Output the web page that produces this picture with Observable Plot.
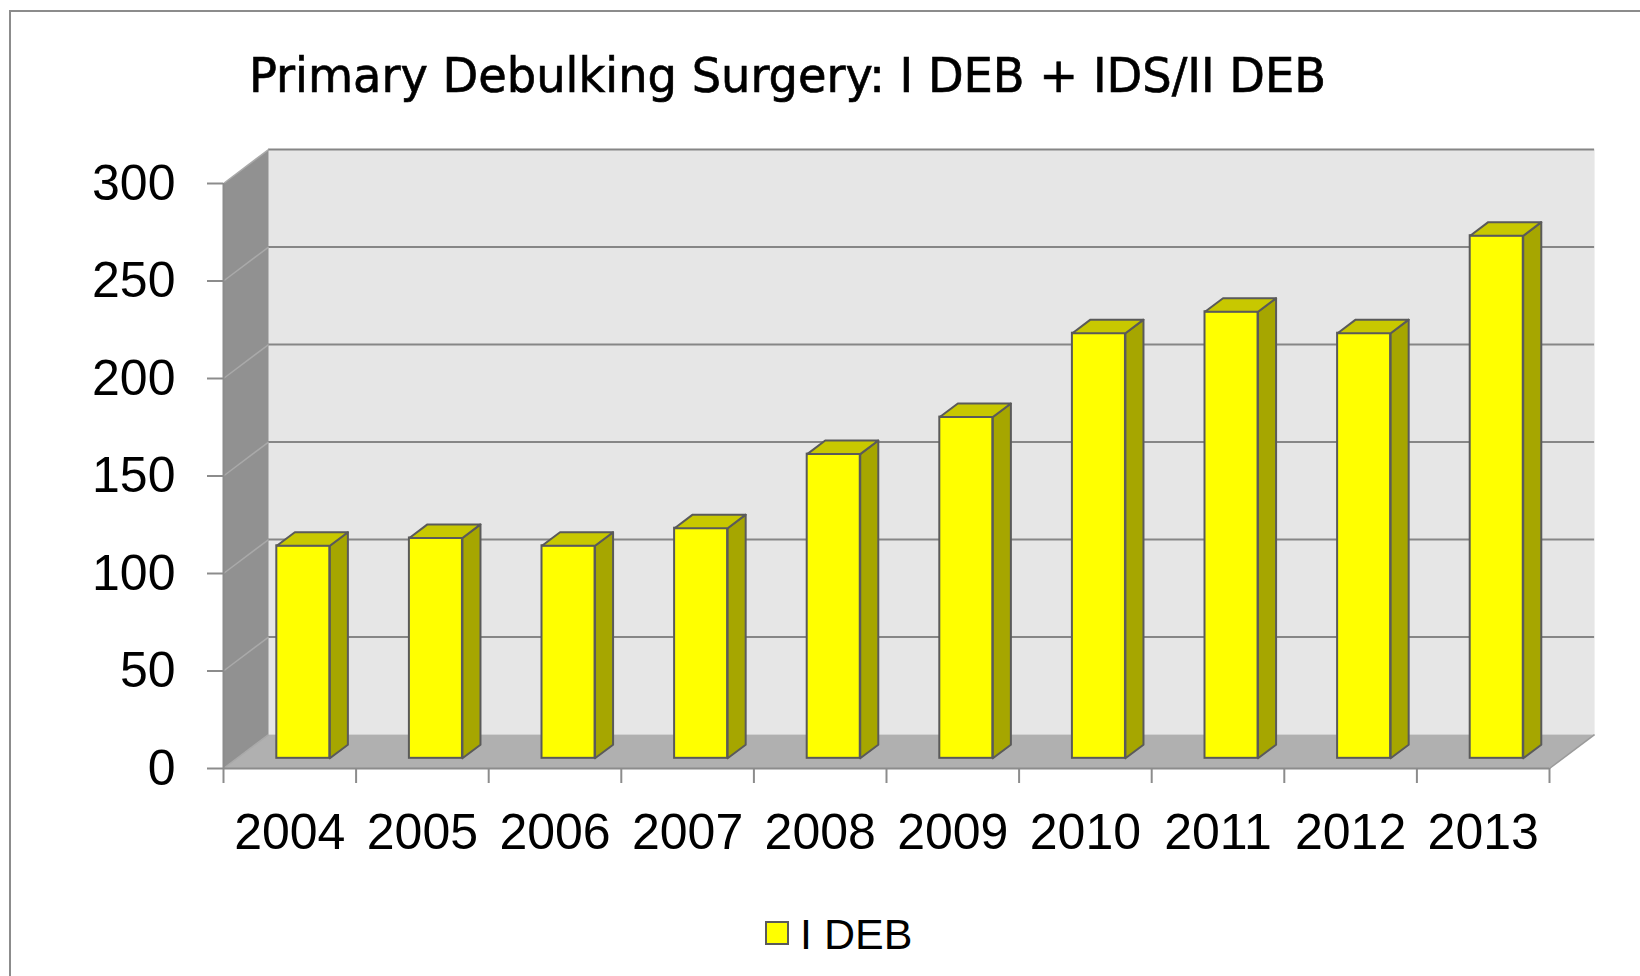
<!DOCTYPE html>
<html><head><meta charset="utf-8">
<script src="https://cdn.jsdelivr.net/npm/d3@7"></script>
<script src="https://cdn.jsdelivr.net/npm/@observablehq/plot@0.6"></script>
<style>
html,body{margin:0;padding:0;background:#fff;overflow:hidden;width:1640px;height:976px}
#wrap{position:relative;width:1640px;height:976px;overflow:hidden}
#frame{position:absolute;left:9px;top:10px;width:1700px;height:1000px;border-left:2px solid #8c8c8c;border-top:2px solid #8c8c8c}
#chart{position:absolute;left:0;top:0}
#overlay{position:absolute;left:0;top:0}
</style></head>
<body><div id="wrap"><div id="frame"></div><div id="chart"></div>
<svg id="overlay" width="1640" height="976"></svg></div>
<script>
// ---- data ----
const years = ["2004", "2005", "2006", "2007", "2008", "2009", "2010", "2011", "2012", "2013"];
const iDeb = [109, 113, 109, 118, 156, 175, 218, 229, 218, 268];
const yTicks = [0, 50, 100, 150, 200, 250, 300];
const titleText = "Primary Debulking Surgery: I DEB + IDS/II DEB";
const seriesName = "I DEB";

// ---- 3D geometry (data units) ----
const DX = 0.34, DY = 17.4;      // depth of the box
const GAP = 0.3, BW = 0.4;       // bar offset & width within a category
const BF = 0.3, BD = 0.4;        // bar front depth & bar depth (fractions)
const n = years.length, yMax = yTicks[yTicks.length - 1];

const bars = years.map((year, i) => ({year, i, value: iDeb[i]}));
const poly = (id, pts) => pts.concat([pts[0]]).map(([x, y]) => ({id, x, y}));

const backWall = poly("back", [[DX, DY], [n + DX, DY], [n + DX, yMax + DY], [DX, yMax + DY]]);
const sideWall = poly("side", [[0, 0], [DX, DY], [DX, yMax + DY], [0, yMax]]);
const floorP = poly("floor", [[0, 0], [n, 0], [n + DX, DY], [DX, DY]]);

const sides = bars.flatMap(d => {
  const xr = d.i + GAP + BW + BF * DX, y0 = BF * DY, y1 = (BF + BD) * DY;
  return poly(d.year, [[xr, y0], [xr + BD * DX, y1], [xr + BD * DX, d.value + y1], [xr, d.value + y0]]);
});
const tops = bars.flatMap(d => {
  const xl = d.i + GAP + BF * DX, xr = xl + BW, y0 = d.value + BF * DY, y1 = d.value + (BF + BD) * DY;
  return poly(d.year, [[xl, y0], [xr, y0], [xr + BD * DX, y1], [xl + BD * DX, y1]]);
});

const axisColor = "#8c8c8c";
const edge = "#5a5a5a";

const chart = Plot.plot({
  width: 1640, height: 976,
  marginLeft: 223, marginRight: 91, marginTop: 183, marginBottom: 208,
  x: {domain: [0, n], axis: null, label: null},
  y: {domain: [0, yMax], axis: null, label: null},
  style: {fontFamily: "'Liberation Sans', Arial, sans-serif", background: "transparent", overflow: "visible"},
  marks: [
    Plot.line(backWall, {x: "x", y: "y", z: "id", fill: "#e6e6e6", stroke: "none"}),
    Plot.line(sideWall, {x: "x", y: "y", z: "id", fill: "#919191", stroke: "none"}),
    Plot.line(floorP, {x: "x", y: "y", z: "id", fill: "#b0b0b0", stroke: "none"}),
    Plot.ruleY(yTicks.filter(v => v > 0), {y: v => v + DY, x1: () => DX, x2: () => n + DX, stroke: "#868686", strokeWidth: 2}),
    Plot.link(yTicks, {x1: () => 0, y1: v => v, x2: () => DX, y2: v => v + DY, stroke: "#a9a9a9", strokeWidth: 1.5}),
    Plot.link([0], {x1: () => n, y1: () => 0, x2: () => n + DX, y2: () => DY, stroke: "#9a9a9a", strokeWidth: 1.5}),
    Plot.rect(bars, {
      x1: d => d.i + GAP + BF * DX, x2: d => d.i + GAP + BW + BF * DX,
      y1: () => BF * DY, y2: d => d.value + BF * DY,
      fill: "#ffff00", stroke: edge, strokeWidth: 2
    }),
    Plot.line(sides, {x: "x", y: "y", z: "id", fill: "#a6a600", stroke: edge, strokeWidth: 2, strokeLinejoin: "round"}),
    Plot.line(tops, {x: "x", y: "y", z: "id", fill: "#c8c800", stroke: edge, strokeWidth: 2, strokeLinejoin: "round"}),
    Plot.ruleX([0], {y1: () => 0, y2: () => yMax, stroke: axisColor, strokeWidth: 2}),
    Plot.ruleY([0], {x1: () => 0, x2: () => n, stroke: axisColor, strokeWidth: 2}),
    Plot.axisY(yTicks, {anchor: "left", tickSize: 16, tickPadding: 32, fontSize: 50, stroke: axisColor, strokeWidth: 2, fill: "#000", tickFormat: d => String(d)}),
    Plot.axisX(d3.range(0, n + 1), {anchor: "bottom", tickSize: 15, tickFormat: () => "", stroke: axisColor, strokeWidth: 2}),
    Plot.axisX(bars.map(d => d.i + 0.5), {anchor: "bottom", tickSize: 0, tickPadding: 45, fontSize: 50, fill: "#000", tickFormat: d => years[Math.floor(d)]})
  ]
});
document.getElementById("chart").appendChild(chart);

// title & legend
const ov = d3.select("#overlay");
ov.append("text").attr("x", 249).attr("y", 92)
  .attr("font-family", "'DejaVu Sans Condensed', 'DejaVu Sans', sans-serif")
  .attr("font-size", 48).attr("textLength", 1077).attr("lengthAdjust", "spacingAndGlyphs")
  .attr("fill", "#000").attr("stroke", "#000").attr("stroke-width", 0.6).text(titleText);
ov.append("rect").attr("x", 766).attr("y", 922).attr("width", 22).attr("height", 22)
  .attr("fill", "#ffff00").attr("stroke", edge).attr("stroke-width", 2);
ov.append("text").attr("x", 800).attr("y", 949)
  .attr("font-family", "'Liberation Sans', Arial, sans-serif").attr("font-size", 43)
  .attr("fill", "#000").text(seriesName);
</script>
</body></html>
